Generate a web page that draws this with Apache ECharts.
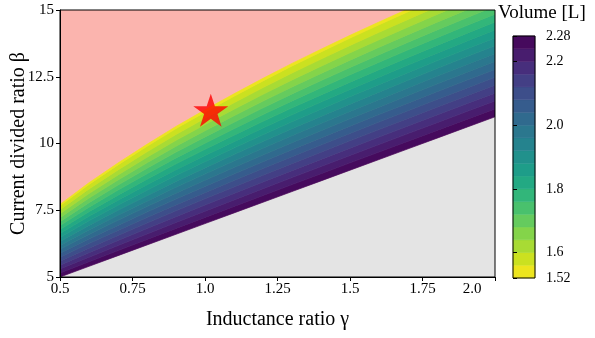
<!DOCTYPE html>
<html><head><meta charset="utf-8">
<script src="https://cdn.jsdelivr.net/npm/echarts@6/dist/echarts.min.js"></script>
<style>html,body{margin:0;padding:0;background:#fff}#c{width:595px;height:338px}</style>
</head><body><div id="c"></div>
<script>
// ---- data ----
const gammaGrid = [0.5,0.6,0.7,0.8,0.9,1.0,1.1,1.2,1.3,1.4,1.5,1.6,1.7,1.8,1.9,2.0];
// feasibility limit (top edge of coloured area; pink above)
const upperBeta = [7.72,8.53,9.27,9.97,10.64,11.26,11.86,12.44,13.00,13.53,14.05,14.55,15.04,15.52,15.98,16.43];
// lower limit (grey below)
const lowerBeta = [5.0,5.4,5.8,6.2,6.6,7.0,7.4,7.8,8.2,8.6,9.0,9.4,9.8,10.2,10.6,11.0];
const volumeAtLower = 2.28;
const volumeAtUpper = 1.545;
const volumeLevels = [1.52,1.56,1.60,1.64,1.68,1.72,1.76,1.80,1.84,1.88,1.92,1.96,2.00,2.04,2.08,2.12,2.16,2.20,2.24,2.28];
const starPoint = [1.02, 11.25];
const xTicks = [0.5,0.75,1.0,1.25,1.5,1.75,2.0];
const yTicks = [5,7.5,10,12.5,15];
const cbarTicks = [1.52,1.6,1.8,2.0,2.2,2.28];

// ---- styling ----
const FONT = '"Liberation Serif","Times New Roman",serif';
const viridisStops = ['#440154','#471365','#482475','#463480','#414487','#3b528b','#355f8d','#2f6c8e','#2a788e','#25848e','#21918c','#1e9c89','#22a884','#2fb47c','#44bf70','#5ec962','#7ad151','#9bd93c','#bddf26','#dfe318','#fde725'];
function hex2rgb(h){return [parseInt(h.slice(1,3),16),parseInt(h.slice(3,5),16),parseInt(h.slice(5,7),16)];}
function viridis(x){
  x=Math.max(0,Math.min(1,x));
  const n=viridisStops.length-1, p=x*n, i=Math.min(n-1,Math.floor(p)), f=p-i;
  const a=hex2rgb(viridisStops[i]), b=hex2rgb(viridisStops[i+1]);
  return 'rgb('+a.map((v,j)=>Math.round(v+(b[j]-v)*f)).join(',')+')';
}
const vMin = volumeLevels[0], vMax = volumeLevels[volumeLevels.length-1];
function bandColor(k){
  const mid=(volumeLevels[k]+volumeLevels[k+1])/2;
  return viridis(1-(mid-vMin)/(vMax-vMin));
}
function tOf(level){return (volumeAtLower-level)/(volumeAtLower-volumeAtUpper);}

const bandIdx = [];
for(let k=volumeLevels.length-2;k>=0;k--) bandIdx.push([k]);

const chart = echarts.init(document.getElementById('c'), null, {renderer:'canvas'});
const axisText = {fontFamily:FONT,color:'#000'};
function betaAt(i,t){ return t>=1 ? upperBeta[i] : lowerBeta[i]+t*(upperBeta[i]-lowerBeta[i]); }
chart.setOption({
  animation:false,
  backgroundColor:'#fff',
  grid:[
    {left:60,top:10,width:435,height:267,outerBoundsMode:'none',containLabel:false},
    {left:513,top:36,width:22,height:242,outerBoundsMode:'none',containLabel:false}
  ],
  xAxis:[
    {gridIndex:0,type:'value',min:0.5,max:2.0,interval:0.25,z:10,
     axisLine:{show:true,onZero:false,lineStyle:{color:'#000',width:1}},
     axisTick:{show:true,length:4,lineStyle:{color:'#000',width:1}},
     splitLine:{show:false},
     axisLabel:{...axisText,fontSize:15,margin:5,showMinLabel:true,showMaxLabel:true,
       formatter:v=>{ if(Math.abs(v-2)<1e-9) return '{last|2.0}'; return Number.isInteger(v)?v.toFixed(1):String(v);},
       rich:{last:{fontFamily:FONT,fontSize:15,color:'#000',padding:[0,46,0,0]}}},
     name:'Inductance ratio γ',nameLocation:'middle',nameGap:33,nameMoveOverlap:false,
     nameTextStyle:{...axisText,fontSize:20}},
    {gridIndex:1,type:'value',min:0,max:1,show:false}
  ],
  yAxis:[
    {gridIndex:0,type:'value',min:5,max:15,interval:2.5,z:10,
     axisLine:{show:true,onZero:false,lineStyle:{color:'#000',width:1}},
     axisTick:{show:true,length:4,lineStyle:{color:'#000',width:1}},
     splitLine:{show:false},
     axisLabel:{...axisText,fontSize:15,margin:6},
     name:'Current divided ratio β',nameLocation:'middle',nameGap:31,nameMoveOverlap:false,
     nameTextStyle:{...axisText,fontSize:20}},
    {gridIndex:1,type:'value',position:'right',min:vMin,max:vMax,z:10,
     axisLine:{show:false},
     splitLine:{show:false},
     axisTick:{show:true,length:4,customValues:cbarTicks,lineStyle:{color:'#000',width:1}},
     axisLabel:{...axisText,fontSize:14,margin:11,customValues:cbarTicks,
       formatter:v=>(Math.round(v*100)%10===0?v.toFixed(1):v.toFixed(2))}}
  ],
  graphic:[
    {type:'text',left:498,top:4,z:20,style:{text:'Volume [L]',fontFamily:FONT,fontSize:19,fill:'#000'}}
  ],
  series:[
    {type:'custom',name:'regions',xAxisIndex:0,yAxisIndex:0,clip:true,z:1,
     data:[[0],[1]],
     renderItem:(params,api)=>{
       const cs=params.coordSys;
       if(api.value(0)===0){
         return {type:'rect',shape:{x:cs.x,y:cs.y,width:cs.width,height:cs.height},style:{fill:'#fbb4ae'}};
       }
       const pts=gammaGrid.map((g,i)=>api.coord([g,lowerBeta[i]]));
       pts.push(api.coord([gammaGrid[gammaGrid.length-1],5]));
       pts.push(api.coord([gammaGrid[0],5]));
       return {type:'polygon',shape:{points:pts},style:{fill:'#e4e4e4'}};
     }},
    {type:'custom',name:'Volume',xAxisIndex:0,yAxisIndex:0,clip:true,z:2,
     data:bandIdx,
     renderItem:(params,api)=>{
       const k=api.value(0);
       const tLow=tOf(volumeLevels[k+1]);
       const tHigh=Math.min(1,tOf(volumeLevels[k]));
       const pts=[];
       gammaGrid.forEach((g,i)=>{pts.push(api.coord([g,betaAt(i,tLow)]));});
       for(let i=gammaGrid.length-1;i>=0;i--) pts.push(api.coord([gammaGrid[i],betaAt(i,tHigh)]));
       const c=bandColor(k);
       return {type:'polygon',shape:{points:pts},style:{fill:c,stroke:c,lineWidth:0.7}};
     }},
    {type:'scatter',name:'optimum',xAxisIndex:0,yAxisIndex:0,z:6,
     symbol:'path://M50,0 L61.2,34.5 L97.6,34.5 L68.2,55.9 L79.4,90.5 L50,69.1 L20.6,90.5 L31.8,55.9 L2.4,34.5 L38.8,34.5 Z',
     symbolSize:[35,33],itemStyle:{color:'#ff0000'},
     data:[starPoint]},
    {type:'custom',name:'frame',xAxisIndex:0,yAxisIndex:0,z:8,data:[[0]],
     renderItem:(params)=>{const cs=params.coordSys;
       return {type:'rect',shape:{x:cs.x,y:cs.y,width:cs.width,height:cs.height},style:{fill:'none',stroke:'#000',lineWidth:1}};}},
    {type:'custom',name:'colorbar',xAxisIndex:1,yAxisIndex:1,z:2,
     data:volumeLevels.slice(0,-1).map((v,k)=>[k]),
     renderItem:(params,api)=>{
       const k=api.value(0);
       const p0=api.coord([0,volumeLevels[k+1]]), p1=api.coord([1,volumeLevels[k]]);
       const c=bandColor(k);
       return {type:'rect',shape:{x:p0[0],y:p0[1],width:p1[0]-p0[0],height:p1[1]-p0[1]},style:{fill:c,stroke:c,lineWidth:0.5}};
     }},
    {type:'custom',name:'cbframe',xAxisIndex:1,yAxisIndex:1,z:8,data:[[0]],
     renderItem:(params)=>{const cs=params.coordSys;
       return {type:'rect',shape:{x:cs.x,y:cs.y,width:cs.width,height:cs.height},style:{fill:'none',stroke:'#000',lineWidth:1}};}}
  ]
});
</script></body></html>
